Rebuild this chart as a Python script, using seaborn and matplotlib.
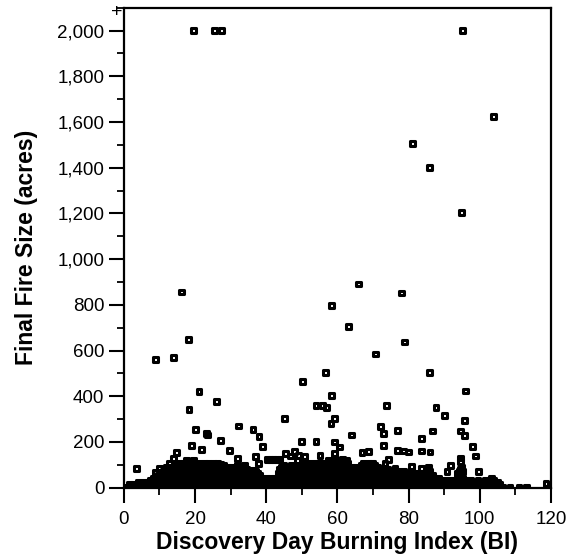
import numpy as np
import pandas as pd
import matplotlib
matplotlib.use("Agg")
import matplotlib.pyplot as plt
from matplotlib.ticker import MultipleLocator, FuncFormatter
import seaborn as sns

# Scattered fires (BI, acres)
outlier_bi = [19.6, 25.4, 27.5, 95.1, 103.9, 81.2, 85.9, 94.9,
              16.2, 58.4, 65.9, 78.0, 18.2, 9.0, 13.9, 63.2, 78.8, 70.6, 56.7, 85.9,
              50.1, 58.3, 96.0, 21.1, 26.0, 18.3, 54.0, 55.9, 57.0, 73.9, 87.7,
              20.1, 23.2, 23.6, 18.9, 21.9, 27.1, 32.2, 36.3, 38.0, 38.9, 29.8, 37.1,
              3.5, 45.1, 59.1, 58.2, 64.0, 72.0, 72.9, 77.0, 72.9, 50.0, 54.0, 59.1,
              60.7, 66.9, 68.8, 76.9, 78.5, 80.0, 80.8, 55.1, 49.1, 59.1, 74.3, 90.0,
              95.8, 86.8, 94.5, 95.6, 83.6, 98.0, 98.8, 83.6, 86.0, 94.5, 94.5, 99.7,
              91.7, 90.8, 118.6, 14.8, 14.0, 12.9, 10.0, 9.0, 16.6, 27.2, 27.2, 31.9,
              31.9, 34.0, 36.3, 37.8, 23.1, 48.9, 48.9, 50.8, 50.8, 57.3, 61.4, 73.4,
              76.2, 76.2, 83.6, 45.5, 46.8, 47.9]
outlier_acres = [2000, 2000, 2000, 2000, 1625, 1505, 1402, 1203,
                 856, 798, 891, 852, 647, 560, 570, 705, 637, 585, 503, 503,
                 464, 404, 423, 422, 378, 343, 358, 358, 349, 359, 349,
                 254, 237, 230, 186, 168, 205, 270, 256, 222, 181, 161, 135,
                 85, 302, 302, 280, 230, 266, 237, 251, 186, 203, 203, 200,
                 178, 152, 157, 164, 160, 156, 94, 142, 142, 151, 123, 317,
                 295, 248, 248, 228, 215, 181, 138, 160, 156, 130, 115, 69,
                 95, 69, 18, 152, 129, 107, 86, 65, 106, 101, 69, 127,
                 98, 98, 76, 105, 69, 117, 91, 135, 105, 106, 123, 106,
                 84, 62, 84, 150, 138, 158]

# Dense band of small fires near the bottom, one list per size level (acres)
band_3_bi = [1, 2.2, 3.5, 4.6, 5.8, 7, 8.1, 9.4, 10.5, 11.8, 13, 14.1, 15.4, 16.6, 17.7,
             19, 20.2, 21.5, 22.6, 23.8, 25.1, 26.3, 27.4, 28.7, 29.9, 31.2, 32.3, 33.5,
             34.8, 36, 37.1, 38.4, 39.6, 40.9, 42, 43.2, 44.5, 45.7, 46.8, 48.1, 49.3,
             50.6, 51.7, 52.9, 54.2, 55.4, 56.5, 57.8, 59, 60.3, 61.4, 62.6, 63.9, 65.1,
             66.2, 67.5, 68.7, 70, 71.1, 72.3, 73.6, 74.8, 75.9, 77.2, 78.4, 79.7, 80.8,
             82, 83.3, 84.5, 85.6, 86.9, 88.1, 89.4, 90.5, 91.7, 93, 94.2, 95.3, 96.6,
             97.8, 99.1, 100.2, 101.4, 102.7, 103.9, 105, 106.3, 108.5, 111, 113.2]
band_12_bi = [1.6, 2.8, 4.1, 5.2, 6.4, 7.6, 8.7, 10, 11.1, 12.4, 13.6, 14.7, 16, 17.1,
              18.4, 19.6, 20.8, 22, 23.2, 24.4, 25.7, 26.9, 28, 29.3, 30.5, 31.7, 32.9,
              34.1, 35.4, 36.6, 37.8, 39, 40.2, 41.4, 42.6, 43.8, 45.1, 46.2, 47.5, 48.7,
              49.9, 51.1, 52.3, 53.5, 54.8, 56, 57.1, 58.4, 59.6, 60.8, 62, 63.2, 64.5,
              65.7, 66.8, 68.1, 69.3, 70.5, 71.7, 72.9, 74.2, 75.4, 76.5, 77.8, 79, 80.2,
              81.4, 82.6, 83.9, 85.1, 86.3, 87.5, 88.7, 89.9, 91.1, 92.3, 93.6, 94.8, 96,
              97.2, 98.4, 99.6, 100.8, 102, 103.3, 104.5, 105.6]
band_22_bi = [4.2, 5.5, 6.7, 8, 9.2, 10.3, 11.6, 12.8, 14, 15.3, 16.4, 17.6, 18.9, 20.1,
              21.2, 22.5, 23.7, 25, 26.1, 27.3, 28.6, 29.8, 30.9, 32.2, 33.4, 34.7, 35.8,
              37, 38.3, 39.5, 40.6, 41.9, 43.1, 44.4, 45.5, 46.7, 48, 49.2, 50.3, 51.6,
              52.8, 54.1, 55.2, 56.4, 57.7, 58.9, 60, 61.3, 62.5, 63.8, 64.9, 66.1, 67.4,
              68.6, 69.7, 71, 72.2, 73.5, 74.6, 75.8, 77.1, 78.3, 79.4, 80.7, 81.9, 83.2,
              84.3, 85.5, 86.8, 88, 89.1, 90.4, 91.6, 92.9, 94, 95.2, 96.5, 97.7, 98.8,
              100.1, 101.3, 102.6, 103.7, 104.9]
band_32_bi = [7.4, 8.6, 9.9, 11.1, 12.3, 13.5, 14.8, 16, 17.2, 18.4, 19.7, 20.9, 22.1,
              23.3, 24.6, 25.8, 27, 28.2, 29.5, 30.7, 31.9, 33.1, 34.4, 35.6, 36.8, 38,
              39.3, 40.5, 41.7, 42.9, 44.2, 45.4, 46.6, 47.8, 49.1, 50.3, 51.5, 52.7, 54,
              55.2, 56.4, 57.6, 58.9, 60.1, 61.3, 62.5, 63.8, 65, 66.2, 67.4, 68.7, 69.9,
              71.1, 72.3, 73.6, 74.8, 76, 77.2, 78.5, 79.7, 80.9, 82.1, 83.4, 84.6, 85.8,
              87, 88.3, 89.5, 90.7, 91.9, 93.2, 94.4, 95.6, 97.4, 99.5, 101.6, 102.8, 104]
band_42_bi = [8.3, 9.6, 10.8, 12, 13.3, 14.5, 15.8, 16.9, 18.1, 19.4, 20.6, 21.7, 23, 24.2,
              25.5, 26.6, 27.8, 29.1, 30.3, 31.4, 32.7, 33.9, 35.2, 36.3, 37.5, 38.8, 40,
              41.1, 42.4, 43.6, 44.9, 46, 47.2, 48.5, 49.7, 50.8, 52.1, 53.3, 54.6, 55.7,
              56.9, 58.2, 59.4, 60.5, 61.8, 63, 64.3, 65.4, 66.6, 67.9, 69.1, 70.2, 71.5,
              72.7, 74, 75.1, 76.3, 77.6, 78.8, 79.9, 81.2, 82.4, 83.7, 84.8, 86, 87.3,
              88.4, 94, 95.1, 103.2]
band_52_bi = [9.8, 11.2, 12.5, 13.9, 15.1, 16.3, 17.5, 18.8, 20, 21.2, 22.4, 23.7, 24.9,
              26.1, 27.3, 28.6, 29.8, 31, 32.2, 33.5, 34.7, 35.9, 37.1, 38.2, 43.9, 45.2,
              46.4, 47.6, 48.8, 50.1, 51.3, 52.5, 53.7, 55, 56.2, 57.4, 58.6, 59.9, 61.1,
              62.3, 63.5, 64.8, 66, 67.2, 68.4, 69.7, 70.9, 72.1, 73.3, 74.6, 75.8, 77,
              78.2, 79.5, 80.7, 81.9, 83.1, 84.4, 85.6, 86.8, 94.4]
band_62_bi = [10.7, 12, 13.2, 14.4, 15.7, 16.9, 18.2, 19.3, 20.5, 21.8, 23, 24.3, 25.4,
              26.6, 27.9, 29.1, 30.2, 31.5, 32.7, 34, 35.1, 36.3, 37.6, 43.3, 44.5, 45.8,
              47, 48.1, 49.4, 50.6, 51.9, 53, 54.2, 55.5, 56.7, 57.8, 59.1, 60.3, 61.6,
              62.7, 63.9, 65.2, 66.4, 67.5, 68.8, 70, 71.3, 72.4, 73.6, 74.9, 76.1, 77.2,
              78.5, 79.8, 81, 82.3, 83.5, 84.7, 85.9, 93.8, 95]
band_71_bi = [11, 12.3, 13.5, 14.8, 16, 17.3, 18.5, 19.8, 21, 22.2, 23.5, 24.7, 25.9,
              27.2, 28.4, 29.6, 30.9, 32.1, 33.3, 34.6, 35.8, 36.9, 43.9, 45.1, 46.4,
              47.6, 48.9, 50.1, 51.3, 52.6, 53.8, 55, 56.3, 57.5, 58.7, 60, 61.2, 62.4,
              63.7, 64.9, 66.1, 67.4, 68.6, 69.8, 71.1, 72.3, 73.5, 74.8, 76, 77.3, 78.5,
              84.9, 85.8, 94.2, 95.1]
band_80_bi = [11.3, 12.6, 13.8, 15, 16.3, 17.5, 18.8, 19.9, 21.1, 22.4, 23.6, 24.9, 26,
              27.2, 28.5, 29.7, 30.8, 32.1, 33.3, 34.6, 43.8, 45, 46.3, 47.5, 48.6, 49.9,
              51.1, 52.4, 53.5, 54.7, 56, 57.2, 58.3, 59.6, 60.8, 62.1, 63.2, 64.4, 65.7,
              66.9, 68, 69.3, 70.5, 71.8, 73, 74.2, 85.2, 94.5]
band_89_bi = [12, 13.2, 14.4, 15.7, 16.9, 18.1, 19.3, 20.6, 21.8, 23, 24.2, 25.5, 26.7,
              27.9, 29.1, 30.4, 31.6, 32.8, 34, 44.4, 45.6, 46.9, 48.1, 49.3, 50.5, 51.8,
              53, 54.2, 55.4, 56.7, 57.9, 59.1, 60.3, 61.6, 62.8, 64, 65.2, 66.5, 67.7,
              68.9, 70.1, 71.4, 85.6, 94.8]
band_98_bi = [14.6, 15.9, 17.1, 18.4, 19.5, 20.7, 22, 23.2, 24.5, 25.6, 26.8, 28.1, 45,
              47.2, 50.4, 51.6, 52.9, 54, 55.2, 56.5, 57.7, 58.8, 60.1, 61.3, 62.6, 66.8,
              68, 69.3, 70.5]
band_108_bi = [15.2, 16.5, 17.8, 19, 20.2, 21.4, 22.7, 23.9, 25.1, 26.3, 51, 52.3, 53.5,
               54.7, 55.9, 57.1, 58.3, 59.5, 60.7, 61.9, 63, 67.4, 68.7, 69.9]
band_118_bi = [57.5, 58.9, 60.2, 61.4, 62.6, 17.5, 19.5]
band_124_bi = [40.3, 41.2, 42.1, 43.0, 43.9]

x_ticks = [0, 20, 40, 60, 80, 100, 120]
y_ticks = [0, 200, 400, 600, 800, 1000, 1200, 1400, 1600, 1800, 2000]

bands = [(band_3_bi, 3), (band_12_bi, 12), (band_22_bi, 22), (band_32_bi, 32),
         (band_42_bi, 42), (band_52_bi, 52), (band_62_bi, 62), (band_71_bi, 71),
         (band_80_bi, 80), (band_89_bi, 89), (band_98_bi, 98), (band_108_bi, 108),
         (band_118_bi, 118), (band_124_bi, 124)]
bi = list(outlier_bi)
acres = list(outlier_acres)
for xs, level in bands:
    bi += xs
    acres += [level] * len(xs)
df = pd.DataFrame({"bi": bi, "acres": acres})

sns.set_style("ticks")
plt.rcParams["font.family"] = ["Liberation Sans", "DejaVu Sans"]
plt.rcParams["text.color"] = "black"
plt.rcParams["axes.labelcolor"] = "black"

fig = plt.figure(figsize=(5.68, 5.56), dpi=100)
ax = fig.add_axes([0.218, 0.123, 0.752, 0.863])

sns.scatterplot(data=df, x="bi", y="acres", marker="s", s=12,
                facecolors="none", edgecolor="black", linewidth=2.2, ax=ax)

ax.set_xlim(0, 120)
ax.set_ylim(0, 2100)
ax.set_xticks(x_ticks)
ax.set_yticks(y_ticks)
ax.xaxis.set_minor_locator(MultipleLocator(10))
ax.yaxis.set_minor_locator(MultipleLocator(100))
ax.yaxis.set_major_formatter(FuncFormatter(lambda v, p: f"{int(v):,}"))
ax.tick_params(which="major", direction="out", length=11, width=1.5, labelsize=13.5,
               color="black", labelcolor="black", pad=3)
ax.tick_params(axis="x", which="major", pad=6)
ax.tick_params(which="minor", direction="out", length=5, width=1.3, color="black")
for sp in ax.spines.values():
    sp.set_visible(True)
    sp.set_linewidth(1.6)
    sp.set_color("black")

ax.set_xlabel("Discovery Day Burning Index (BI)", fontsize=16.5, fontweight="bold", labelpad=2)
ax.set_ylabel("Final Fire Size (acres)", fontsize=16.5, fontweight="bold", labelpad=14)
ax.annotate("+", xy=(0, 2000), xytext=(-5, 13), textcoords="offset points",
            ha="center", va="center", fontsize=14, annotation_clip=False)

fig.savefig("out.png", dpi=100)
